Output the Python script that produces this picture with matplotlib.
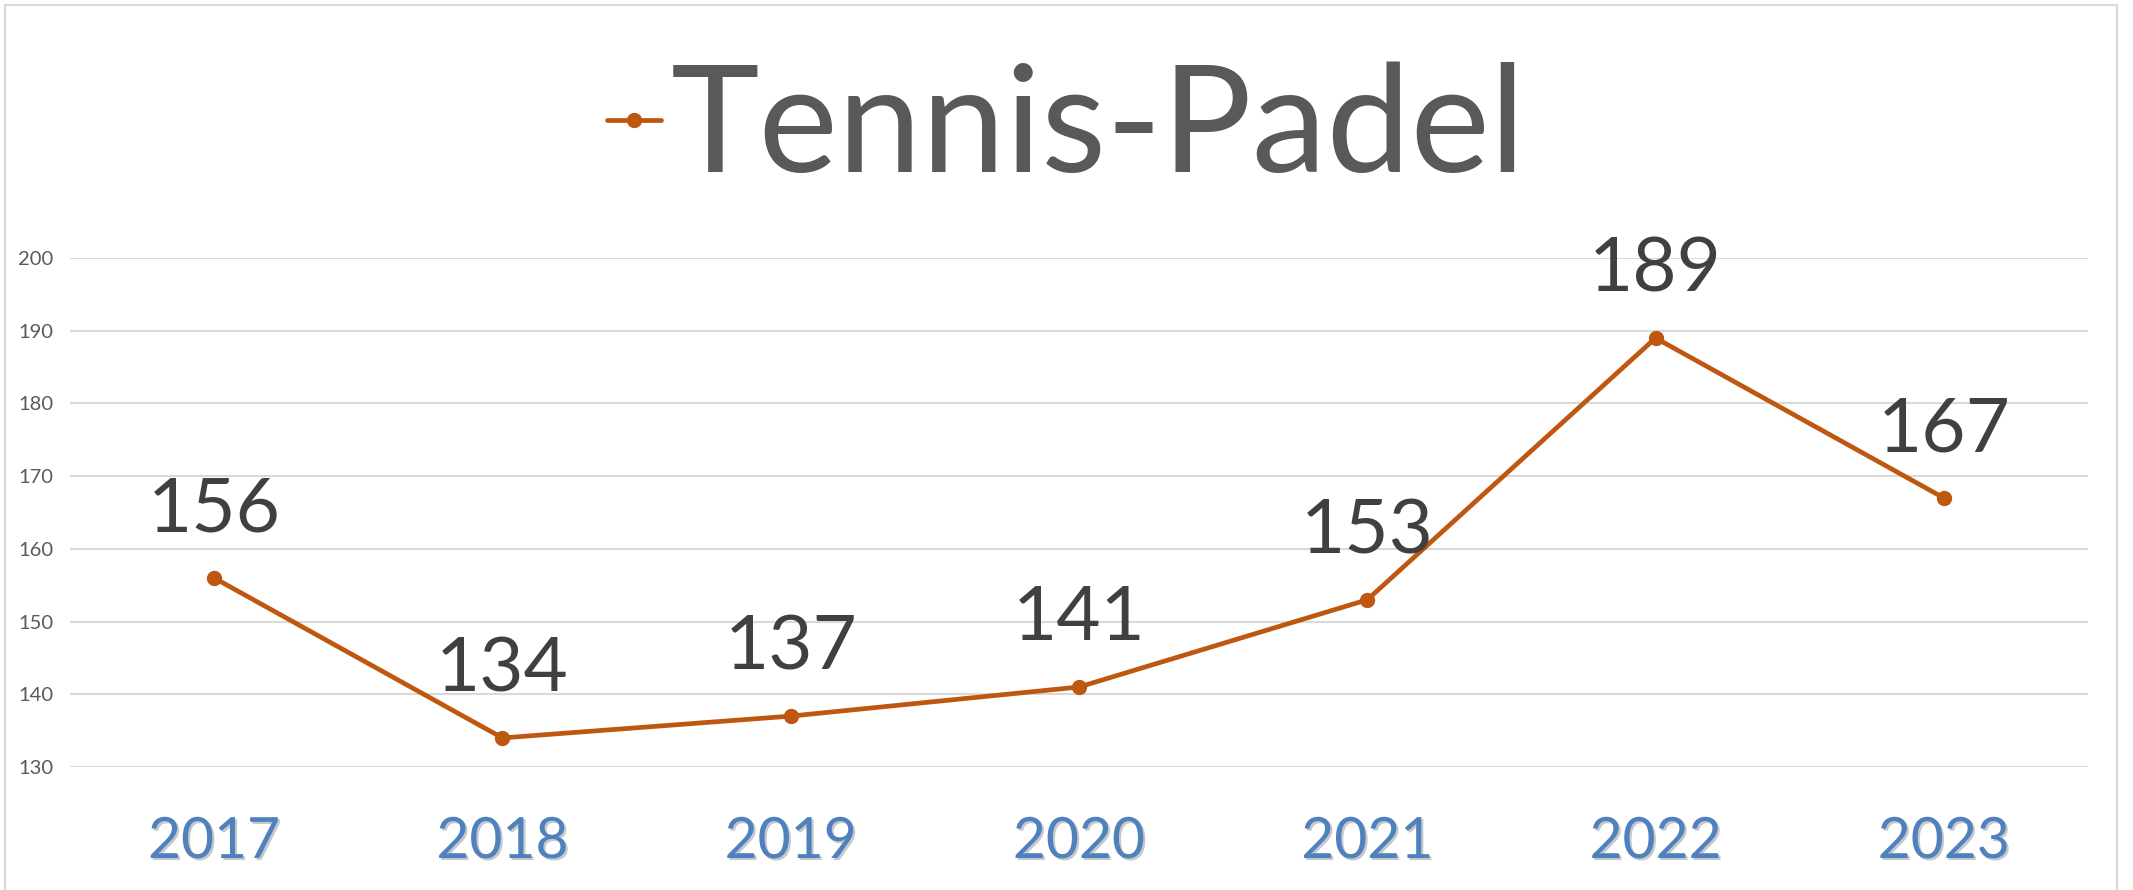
import matplotlib
matplotlib.use("Agg")
import matplotlib.pyplot as plt
import matplotlib.patheffects as pe
from matplotlib.patches import Rectangle

plt.rcParams['font.family'] = ['Lato', 'DejaVu Sans']

years = ['2017', '2018', '2019', '2020', '2021', '2022', '2023']
tennis_padel = [156, 134, 137, 141, 153, 189, 167]
yticks = [130, 140, 150, 160, 170, 180, 190, 200]

line_color = '#BE5710'
grid_color = '#D9D9D9'

W, H = 2133, 890
fig = plt.figure(figsize=(W / 100, H / 100), dpi=100)
ax = fig.add_axes([70 / W, 1 - 767 / H, (2088 - 70) / W, (767 - 258) / H])

x = list(range(len(years)))
ax.plot(x, tennis_padel, color=line_color, lw=3.4, marker='o', ms=10,
        label='Tennis-Padel', solid_capstyle='round')

for xi, v in zip(x, tennis_padel):
    ax.annotate(str(v), (xi, v), xytext=(0, 49), textcoords='offset points',
                ha='center', va='center', fontsize=55, color='#404040')

ax.set_xlim(-0.5, len(years) - 0.5)
ax.set_ylim(130, 200)
ax.set_yticks(yticks)
ax.set_yticklabels([str(t) for t in yticks], fontsize=14.5, color='#595959')
ax.set_xticks(x)
ax.set_xticklabels(years, fontsize=41, color='#4F81BD')
for lbl in ax.get_xticklabels():
    lbl.set_path_effects([pe.SimplePatchShadow(offset=(1.5, -1.5), alpha=0.25),
                          pe.Normal()])
ax.tick_params(axis='y', length=0, pad=12)
ax.tick_params(axis='x', length=0, pad=36)
ax.grid(axis='y', color=grid_color, lw=1.5)
ax.set_axisbelow(True)
for s in ax.spines.values():
    s.set_visible(False)

leg = fig.legend(loc='center', bbox_to_anchor=(0.5, 1 - 130 / H), frameon=False,
                 fontsize=108, labelcolor='#595959', handlelength=0.36,
                 handletextpad=0.06, borderpad=0)

# chart border
fig.patches.append(Rectangle((5 / W, -0.02), (2117 - 5) / W, 1 - 5 / H + 0.02,
                             transform=fig.transFigure, fill=False,
                             edgecolor=grid_color, lw=1.5))

fig.savefig('out.png', dpi=100, facecolor='white')
